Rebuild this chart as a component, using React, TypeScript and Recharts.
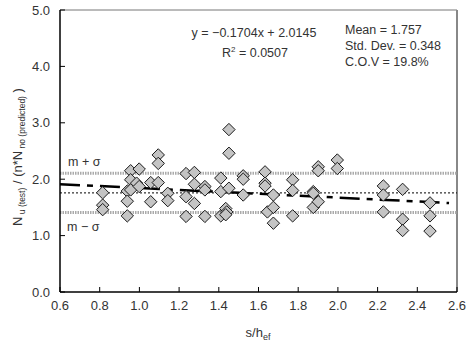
import React from "react";
import {
  ScatterChart,
  Scatter,
  XAxis,
  YAxis,
  ReferenceLine,
  Customized,
} from "recharts";

const sValues = [
  0.815, 0.815, 0.815,
  0.939, 0.939, 0.939,
  0.956, 0.956, 0.956,
  0.986,
  0.999, 0.999,
  1.057, 1.057,
  1.095, 1.095, 1.095,
  1.143, 1.143,
  1.235, 1.235, 1.235,
  1.277, 1.277, 1.277,
  1.33, 1.33, 1.33,
  1.41, 1.41, 1.41,
  1.435, 1.44, 1.435,
  1.451, 1.451, 1.451,
  1.523, 1.523, 1.523,
  1.633, 1.633, 1.633, 1.645,
  1.675, 1.675, 1.675,
  1.772, 1.772, 1.772,
  1.876, 1.876, 1.876, 1.901, 1.901, 1.901,
  1.997, 1.997,
  2.229, 2.229, 2.229,
  2.326, 2.326, 2.326,
  2.464, 2.464, 2.464,
];

const ratioValues = [
  1.76, 1.54, 1.46,
  1.79, 1.61, 1.35,
  2.15, 1.99, 1.81,
  1.93,
  2.18, 1.87,
  1.94, 1.6,
  2.43, 2.28, 1.94,
  1.75, 1.62,
  2.1, 1.69, 1.34,
  2.12, 1.91, 1.57,
  1.87, 1.81, 1.34,
  2.02, 1.78, 1.35,
  1.48, 1.42, 1.37,
  2.88, 2.46, 1.84,
  2.06, 2.0, 1.72,
  2.13, 1.93, 1.88, 1.42,
  1.72, 1.5, 1.22,
  1.99, 1.8, 1.35,
  1.78, 1.75, 1.5, 1.6, 2.22, 2.15,
  2.34, 2.19,
  1.88, 1.72, 1.42,
  1.82, 1.29, 1.09,
  1.58, 1.35, 1.08,
];

const trendX = [0.6, 2.56];
const trendY = [1.912, 1.578];

const meanValue = 1.757;
const stdValue = 0.348;

const xTicks = [0.6, 0.8, 1.0, 1.2, 1.4, 1.6, 1.8, 2.0, 2.2, 2.4, 2.6];
const yTicks = [0, 1, 2, 3, 4, 5];

const points = sValues.map((s, i) => ({ x: s, y: ratioValues[i] }));
const trend = trendX.map((x, i) => ({ x, y: trendY[i] }));

const FONT = "'Liberation Sans', Arial, sans-serif";
const TXT = "#333";

const Diamond = (props: any) => {
  const { cx, cy } = props;
  if (cx == null || cy == null) return null;
  const r = 6.2;
  return (
    <polygon
      points={`${cx},${cy - r} ${cx + r},${cy} ${cx},${cy + r} ${cx - r},${cy}`}
      fill="#c4c4c4"
      stroke="#1a1a1a"
      strokeWidth={1}
    />
  );
};

const Annotations = () => (
  <g fontFamily={FONT} fill={TXT}>
    <text x={254} y={37} fontSize={12.5} textAnchor="middle">
      y = −0.1704x + 2.0145
    </text>
    <text x={255} y={57} fontSize={12.5} textAnchor="middle">
      R<tspan dy={-5} fontSize={8}>2</tspan>
      <tspan dy={5}> = 0.0507</tspan>
    </text>
    <text x={345} y={34} fontSize={12.5}>Mean = 1.757</text>
    <text x={345} y={50} fontSize={12.5}>Std. Dev. = 0.348</text>
    <text x={345} y={66} fontSize={12.5}>C.O.V = 19.8%</text>
    <text x={68} y={166} fontSize={12.5}>m + σ</text>
    <text x={67} y={231} fontSize={12.5}>m − σ</text>
    <text x={258} y={337} fontSize={13} textAnchor="middle">
      s/h<tspan dy={3} fontSize={9}>ef</tspan>
    </text>
    <text
      transform="translate(22,157) rotate(-90)"
      fontSize={13}
      textAnchor="middle"
    >
      N<tspan dy={3} fontSize={8.5}> u (test)</tspan>
      <tspan dy={-3}>  / (n*N</tspan>
      <tspan dy={3} fontSize={8.5}> no (predicted)</tspan>
      <tspan dy={-3}>  )</tspan>
    </text>
  </g>
);

export default function App() {
  return (
    <div style={{ position: "absolute", left: 0, top: 0 }}>
      <ScatterChart
        width={471}
        height={345}
        margin={{ top: 10, right: 14, left: 0, bottom: 0 }}
      >
        <XAxis
          type="number"
          dataKey="x"
          domain={[0.6, 2.6]}
          ticks={xTicks}
          tickFormatter={(v: number) => v.toFixed(1)}
          height={53}
          tickSize={-5}
          tickMargin={14}
          axisLine={{ stroke: "#000", strokeWidth: 1.5 }}
          tickLine={{ stroke: "#000", strokeWidth: 1 }}
          tick={{ fill: TXT, fontSize: 13, fontFamily: FONT }}
          allowDataOverflow
        />
        <YAxis
          type="number"
          dataKey="y"
          domain={[0, 5]}
          ticks={yTicks}
          tickFormatter={(v: number) => v.toFixed(1)}
          width={60}
          tickSize={-5}
          tickMargin={15}
          axisLine={{ stroke: "#000", strokeWidth: 1.5 }}
          tickLine={{ stroke: "#000", strokeWidth: 1 }}
          tick={{ fill: TXT, fontSize: 13, fontFamily: FONT }}
          allowDataOverflow
        />
        <ReferenceLine y={5} stroke="#777" strokeWidth={1} />
        <ReferenceLine x={2.6} stroke="#888" strokeWidth={2} />
        <ReferenceLine
          y={meanValue + stdValue}
          stroke="#aaa"
          strokeWidth={3}
          strokeDasharray="1.5 1"
        />
        <ReferenceLine
          y={meanValue - stdValue}
          stroke="#aaa"
          strokeWidth={3}
          strokeDasharray="1.5 1"
        />
        <ReferenceLine
          y={meanValue}
          stroke="#000"
          strokeWidth={1}
          strokeDasharray="2 2"
        />
        <Scatter
          data={trend}
          line={{ stroke: "#000", strokeWidth: 2.5, strokeDasharray: "20 7 6 7" }}
          shape={() => null}
          isAnimationActive={false}
        />
        <Scatter data={points} shape={Diamond} isAnimationActive={false} />
        <Customized component={Annotations} />
      </ScatterChart>
    </div>
  );
}
